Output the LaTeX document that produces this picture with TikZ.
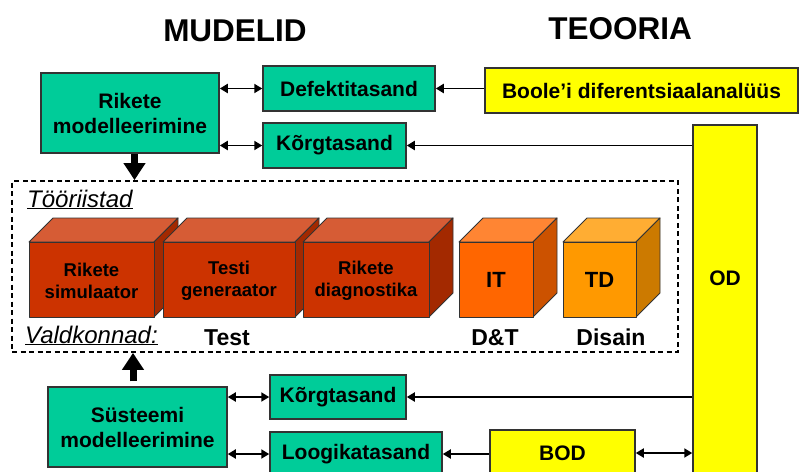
\documentclass[tikz,border=0pt]{standalone}
\usepackage{fontspec}
\setmainfont{Liberation Sans}
\usetikzlibrary{arrows.meta}
\definecolor{mgreen}{HTML}{00CC99}
\definecolor{myellow}{HTML}{FFFF00}
\definecolor{edge}{HTML}{333333}
% cube faces: front / top / side
\definecolor{redF}{HTML}{CC3300}
\definecolor{redT}{HTML}{D65C35}
\definecolor{redS}{HTML}{A32900}
\definecolor{orF}{HTML}{FF6600}
\definecolor{orT}{HTML}{FF8533}
\definecolor{orS}{HTML}{CC5200}
\definecolor{amF}{HTML}{FF9900}
\definecolor{amT}{HTML}{FFAD33}
\definecolor{amS}{HTML}{CC7A00}
\begin{document}
\begin{tikzpicture}[x=1pt,y=-1pt,
  box/.style={draw=edge, line width=1.5pt, inner sep=0pt, align=center,
    font=\bfseries\fontsize{21}{25}\selectfont},
  gbox/.style={box, fill=mgreen},
  ybox/.style={box, fill=myellow},
  title/.style={font=\bfseries\fontsize{31.5}{36}\selectfont},
  cubetext/.style={inner sep=0pt, align=center, font=\bfseries\fontsize{18.5}{22}\selectfont},
  bigcube/.style={inner sep=0pt, font=\bfseries\fontsize{22}{26}\selectfont},
  field/.style={inner sep=0pt, anchor=base, font=\bfseries\fontsize{23}{26}\selectfont},
  ulabel/.style={inner sep=0pt, anchor=base west, font=\itshape\fontsize{24}{28}\selectfont},
  tip/.tip={Triangle[length=8pt,width=9pt]},
  link/.style={line width=1.8pt, -tip},
  dlink/.style={line width=1.8pt, tip-tip},
  blockarrow/.style={line width=7pt, -{Triangle[length=17pt,width=21pt]}},
  cubeedge/.style={draw=edge, line width=0.9pt, line join=round}
]
\clip (0,0) rectangle (799,471);

% headings
\node[title] (mud) at (235,31) {MUDELID};
\node[title] (teo) at (620,29) {TEOORIA};

% modelling and theory boxes
\node[gbox, minimum width=178pt, minimum height=80pt] (rm) at (130,113) {Rikete\\modelleerimine};
\node[gbox, minimum width=172pt, minimum height=45pt] (def) at (349,88.5) {Defektitasand};
\node[gbox, minimum width=143pt, minimum height=45pt] (kt1) at (334.5,145.5) {Kõrgtasand};
\node[ybox, minimum width=313pt, minimum height=45pt] (boole) at (641.5,90.5) {Boole’i diferentsiaalanalüüs};
\node[ybox, minimum width=64pt, minimum height=360pt] (od) at (725,305) {};
\node[inner sep=0pt, font=\bfseries\fontsize{21}{25}\selectfont] (odtxt) at (725,278) {OD};

\node[gbox, minimum width=179pt, minimum height=80pt] (ss) at (137.5,427) {Süsteemi\\modelleerimine};
\node[gbox, minimum width=136pt, minimum height=44pt] (kt2) at (338,397) {Kõrgtasand};
\node[gbox, minimum width=172pt, minimum height=44pt] (lg) at (356,454) {Loogikatasand};
\node[ybox, minimum width=145pt, minimum height=46pt] (bod) at (562.5,453) {BOD};

% dashed frame holding the tools
\node[draw, dash pattern=on 5pt off 3.5pt, line width=1.8pt,
      minimum width=666pt, minimum height=171pt, inner sep=0pt] (tools) at (345,266.5) {};
\node[ulabel] (tr) at (27,207) {\underline{Tööriistad}};
\node[ulabel] (vk) at (25,343) {\underline{Valdkonnad:}};

% cubes: front face corners (x1,y1)-(x2,y2), depth 24
\def\depth{24}
\newcommand{\cube}[7]{%
  \filldraw[cubeedge, fill=#6] (#1,#2) -- (#1+\depth,#2-\depth) -- (#3+\depth,#2-\depth) -- (#3,#2) -- cycle;
  \filldraw[cubeedge, fill=#7] (#3,#2) -- (#3+\depth,#2-\depth) -- (#3+\depth,#4-\depth) -- (#3,#4) -- cycle;
  \filldraw[cubeedge, fill=#5] (#1,#2) rectangle (#3,#4);
}
\cube{29}{242}{154}{317}{redF}{redT}{redS}
\node[cubetext] (c1) at (91.5,281) {Rikete\\simulaator};
\cube{163}{242}{295}{317}{redF}{redT}{redS}
\node[cubetext] (c2) at (229,281) {Testi\\generaator};
\cube{303}{242}{429}{317}{redF}{redT}{redS}
\node[cubetext] (c3) at (366,281) {Rikete\\diagnostika};
\cube{459}{242}{533}{317}{orF}{orT}{orS}
\node[bigcube] (c4) at (496,280) {IT};
\cube{563}{242}{636}{317}{amF}{amT}{amS}
\node[bigcube] (c5) at (599.5,280) {TD};

% application fields
\node[field] (f1) at (227,345) {Test};
\node[field] (f2) at (495,345) {D\&T};
\node[field] (f3) at (611,345) {Disain};

% connectors
\draw[dlink] (rm.east |- def) -- (def.west);
\draw[dlink] (rm.east |- kt1) -- (kt1.west);
\draw[link] (boole.west |- def) -- (def.east);
\draw[link] (od.west |- kt1) -- (kt1.east);

\draw[dlink] (ss.east |- kt2) -- (kt2.west);
\draw[dlink] (ss.east |- lg) -- (lg.west);
\draw[link] (od.west |- kt2) -- (kt2.east);
\draw[link] (bod.west |- lg) -- (lg.east);
\draw[dlink] (bod.east) -- (od.west |- bod.east);

% block arrows into the tool frame
\coordinate (a1) at (134.5,0);
\coordinate (a2) at (133,0);
\draw[blockarrow] (rm.south -| a1) -- (a1 |- tools.north);
\draw[blockarrow, shorten <=5pt] (ss.north -| a2) -- (a2 |- tools.south);
\end{tikzpicture}
\end{document}
